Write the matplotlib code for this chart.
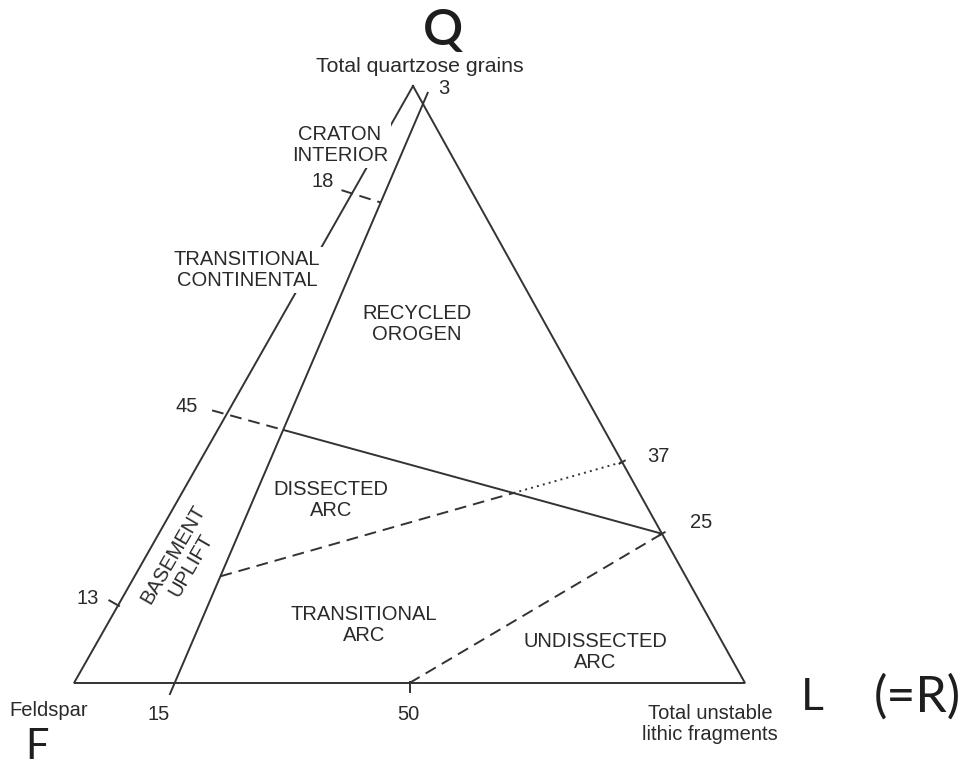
import numpy as np
import matplotlib
matplotlib.use('Agg')
import matplotlib.pyplot as plt

plt.rcParams['font.family'] = ['Liberation Sans', 'DejaVu Sans']
plt.rcParams['lines.scale_dashes'] = False

# ---------------- data: ternary compositions (Q, F, L) in percent ----------------
continental_block = [(97, 0, 3), (0, 85, 15)]          # craton/continental vs. rest
craton_transitional = [(82, 18, 0), (80.5, 14.5, 5)]   # craton interior / transitional continental
orogen_arc = [(45, 55, 0), (25, 0, 75)]                # recycled orogen / magmatic arc
dissected_transitional = [(13, 87, 0), (37, 0, 63)]    # dissected arc / transitional arc
transitional_undissected = [(0, 50, 50), (25, 0, 75)]  # transitional / undissected arc

tick_texts = ["3", "18", "45", "13", "37", "25", "15", "50"]
tick_points = [(97, 0, 3), (82, 18, 0), (45, 55, 0), (13, 87, 0),
               (37, 0, 63), (25, 0, 75), (0, 85, 15), (0, 50, 50)]

region_names = ["CRATON\nINTERIOR", "TRANSITIONAL\nCONTINENTAL", "RECYCLED\nOROGEN",
                "DISSECTED\nARC", "TRANSITIONAL\nARC", "UNDISSECTED\nARC"]
corner_names = ["Total quartzose grains", "Feldspar", "Total unstable\nlithic fragments"]
corner_letters = ["Q", "F", "L", "(=R)"]

# ---------------- layout ----------------
V = np.array([[413.0, 86.0], [74.0, 683.0], [745.0, 683.0]])  # Q, F, L vertex positions (px)


def tern(p):
    p = np.asarray(p, float) / 100.0
    return p @ V


def intersect(a, b):
    p1, p2 = tern(a[0]), tern(a[1])
    p3, p4 = tern(b[0]), tern(b[1])
    d1, d2 = p2 - p1, p4 - p3
    A = np.array([d1, -d2]).T
    t = np.linalg.solve(A, p3 - p1)
    return p1 + t[0] * d1


def extend(p_from, p_to, length):
    d = p_to - p_from
    d = d / np.hypot(*d)
    return p_to + d * length


fig = plt.figure(figsize=(9.67, 7.70), dpi=100)
ax = fig.add_axes([0, 0, 1, 1])
ax.set_xlim(0, 967)
ax.set_ylim(770, 0)
ax.axis('off')

lc = '#333333'
lw = 1.4
dash = (0, (8.5, 5.0))


def seg(p, q, ls='-'):
    ax.plot([p[0], q[0]], [p[1], q[1]], color=lc, lw=lw, ls=ls,
            solid_capstyle='butt', dash_capstyle='butt')


# triangle
tri = np.vstack([V, V[:1]])
ax.plot(tri[:, 0], tri[:, 1], color=lc, lw=lw, solid_joinstyle='miter')

# continental block line with small overshoots at both ends
cb0, cb1 = tern(continental_block[0]), tern(continental_block[1])
seg(extend(cb1, cb0, 13), extend(cb0, cb1, 13))

# craton interior / transitional continental (dashed)
c0, c1 = tern(craton_transitional[0]), tern(craton_transitional[1])
seg(extend(c1, c0, 11), c1, dash)

# recycled orogen / arc
o0, o1 = tern(orogen_arc[0]), tern(orogen_arc[1])
i1 = intersect(orogen_arc, continental_block)
seg(extend(i1, o0, 15), i1, dash)
seg(i1, o1)

# dissected / transitional arc
d0, d1 = tern(dissected_transitional[0]), tern(dissected_transitional[1])
i2 = intersect(dissected_transitional, continental_block)
i3 = intersect(dissected_transitional, orogen_arc)
seg(i2, i3, dash)
seg(i3, d1, (0, (1.4, 3.0)))
# short tick at Q13 on the Q-F side
nF = np.array([-(V[0, 1] - V[1, 1]), V[0, 0] - V[1, 0]])
nF = np.array([-abs(nF[0]), -abs(nF[1])]) / np.hypot(*nF)
seg(d0 - nF * 2, d0 + nF * 11)

# transitional / undissected arc (dashed)
u0, u1 = tern(transitional_undissected[0]), tern(transitional_undissected[1])
seg(u0, u1, dash)
seg(u0 + np.array([0, -2]), u0 + np.array([0, 10]))

# small ticks on the Q-L side
nL = np.array([V[2, 1] - V[0, 1], -(V[2, 0] - V[0, 0])])
nL = nL / np.hypot(*nL)
for p in [d1, o1]:
    seg(p - nL * 4, p + nL * 4)

# tick labels
offsets = [(21, -15), (-29, -12), (-40, -8), (-30, -7), (36, -6), (39, -11), (-16, 32), (-1, 32)]
fs = 14.5
tc = '#2a2a2a'
for txt, pt, off in zip(tick_texts, tick_points, offsets):
    x, y = tern(pt)
    ax.text(x + off[0], y + off[1], txt, ha='center', va='center', fontsize=fs, color=tc)

# region labels
region_pos = [(340, 145), (247, 270), (417, 324), (331, 500), (364, 625), (595, 652)]
for name, (x, y) in zip(region_names, region_pos):
    bb = dict(facecolor='white', edgecolor='none', pad=2) if y < 300 and x < 360 else None
    ax.text(x, y, name, ha='center', va='center', fontsize=fs, color=tc,
            linespacing=1.12, multialignment='center', bbox=bb, zorder=4)

ax.text(182, 560, "BASEMENT\nUPLIFT", ha='center', va='center', fontsize=fs, color=tc,
        rotation=60, rotation_mode='anchor', linespacing=1.12, multialignment='center')

# corner names
ax.text(420, 67, corner_names[0], ha='center', va='center', fontsize=15.3, color=tc)
ax.text(49, 710, corner_names[1], ha='center', va='center', fontsize=fs, color=tc)
ax.text(710, 724, corner_names[2], ha='center', va='center', fontsize=fs, color=tc,
        linespacing=1.12, multialignment='center')

# hand-written corner letters
hw = ['Lato', 'DejaVu Sans']
hc = '#1e1e1e'
ax.text(443, 31, corner_letters[0], ha='center', va='center', fontsize=36, color=hc,
        family=hw, fontweight='semibold')
ax.text(37, 747, corner_letters[1], ha='center', va='center', fontsize=30, color=hc,
        family=hw, fontweight='normal')
ax.text(812, 697, corner_letters[2], ha='center', va='center', fontsize=32, color=hc,
        family=hw, fontweight='normal')
ax.text(917, 697, corner_letters[3], ha='center', va='center', fontsize=36, color=hc,
        family=hw, fontweight='normal')

fig.savefig('out.png', dpi=100)
